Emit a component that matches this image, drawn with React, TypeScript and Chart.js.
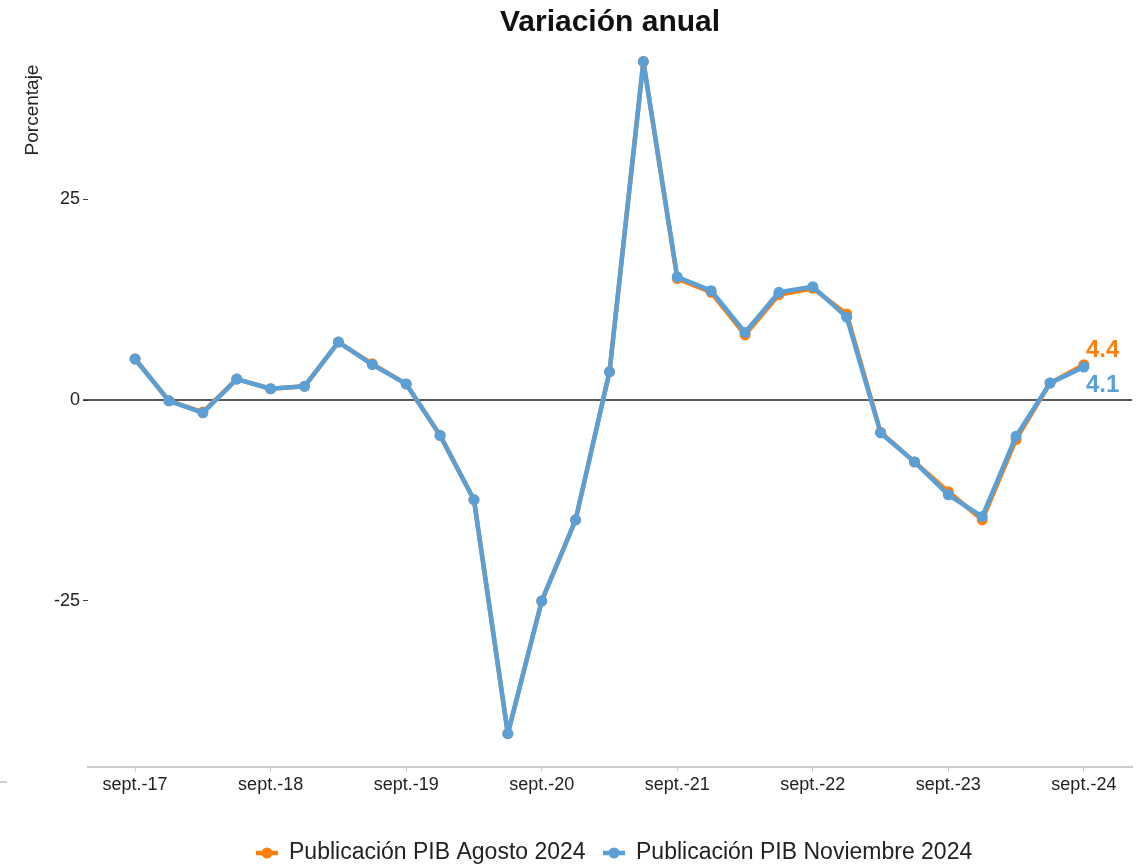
import { useEffect, useRef } from 'react';
import { Chart, registerables } from 'chart.js';

Chart.register(...registerables);

const quarters = [
  'sept.-17', 'dic.-17', 'mar.-18', 'jun.-18',
  'sept.-18', 'dic.-18', 'mar.-19', 'jun.-19',
  'sept.-19', 'dic.-19', 'mar.-20', 'jun.-20',
  'sept.-20', 'dic.-20', 'mar.-21', 'jun.-21',
  'sept.-21', 'dic.-21', 'mar.-22', 'jun.-22',
  'sept.-22', 'dic.-22', 'mar.-23', 'jun.-23',
  'sept.-23', 'dic.-23', 'mar.-24', 'jun.-24',
  'sept.-24',
];

const agosto2024 = [
  5.1, -0.1, -1.5, 2.6, 1.4, 1.7, 7.2, 4.5, 2.0, -4.4, -12.4, -41.5, -25.0, -14.9, 3.5,
  42.1, 15.1, 13.4, 8.1, 13.1, 13.9, 10.7, -4.0, -7.7, -11.4, -14.9, -4.9, 2.1, 4.4,
];

const noviembre2024 = [
  5.1, -0.1, -1.6, 2.6, 1.4, 1.7, 7.2, 4.4, 2.0, -4.4, -12.4, -41.5, -25.0, -14.9, 3.5,
  42.1, 15.3, 13.6, 8.4, 13.4, 14.1, 10.3, -4.1, -7.7, -11.8, -14.5, -4.5, 2.1, 4.1,
];

const xTickIndices = [0, 4, 8, 12, 16, 20, 24, 28];
const yTickValues = [-25, 0, 25];

const seriesNames = ['Publicación PIB Agosto 2024', 'Publicación PIB Noviembre 2024'];
const ORANGE = '#FF7F0E';
const BLUE = '#5A9FD6';
const FONT = '"Liberation Sans", Arial, sans-serif';

const customPlugin = {
  id: 'customDecor',
  beforeDatasetsDraw(chart: any) {
    const { ctx, chartArea, scales } = chart;
    const y0 = scales.y.getPixelForValue(0);
    ctx.save();
    ctx.strokeStyle = '#222';
    ctx.lineWidth = 1.5;
    ctx.beginPath();
    ctx.moveTo(chartArea.left - 5, y0);
    ctx.lineTo(chartArea.right, y0);
    ctx.stroke();
    ctx.restore();
  },
  afterDraw(chart: any) {
    const { ctx, chartArea, scales } = chart;
    ctx.save();
    // title
    ctx.fillStyle = '#111';
    ctx.font = `bold 30px ${FONT}`;
    ctx.textAlign = 'center';
    ctx.textBaseline = 'middle';
    ctx.fillText('Variación anual', (chartArea.left + chartArea.right) / 2, 23);

    // y axis label
    ctx.save();
    ctx.translate(33, 110);
    ctx.rotate(-Math.PI / 2);
    ctx.font = `19px ${FONT}`;
    ctx.fillStyle = '#222';
    ctx.fillText('Porcentaje', 0, 0);
    ctx.restore();

    // end value labels
    const last = quarters.length - 1;
    const xl = scales.x.getPixelForValue(last) + 2;
    ctx.font = `bold 24px ${FONT}`;
    ctx.textAlign = 'left';
    ctx.fillStyle = ORANGE;
    ctx.fillText(agosto2024[last].toFixed(1), xl, scales.y.getPixelForValue(agosto2024[last]) - 14);
    ctx.fillStyle = BLUE;
    ctx.fillText(noviembre2024[last].toFixed(1), xl, scales.y.getPixelForValue(noviembre2024[last]) + 18);

    // legend
    const ly = 853;
    const items = [
      { x: 256, color: ORANGE, text: seriesNames[0] },
      { x: 603, color: BLUE, text: seriesNames[1] },
    ];
    ctx.font = `23px ${FONT}`;
    ctx.textBaseline = 'middle';
    items.forEach((it) => {
      ctx.strokeStyle = it.color;
      ctx.lineWidth = 4.5;
      ctx.beginPath();
      ctx.moveTo(it.x, ly);
      ctx.lineTo(it.x + 22, ly);
      ctx.stroke();
      ctx.fillStyle = it.color;
      ctx.beginPath();
      ctx.arc(it.x + 11, ly, 5.5, 0, Math.PI * 2);
      ctx.fill();
      ctx.fillStyle = '#222';
      ctx.fillText(it.text, it.x + 33, ly);
    });

    // small stray dash at left
    ctx.strokeStyle = '#bbb';
    ctx.lineWidth = 1.5;
    ctx.beginPath();
    ctx.moveTo(0, 782);
    ctx.lineTo(7, 782);
    ctx.stroke();
    ctx.restore();
  },
};

export default function App() {
  const ref = useRef<HTMLCanvasElement | null>(null);

  useEffect(() => {
    if (!ref.current) return;
    Chart.defaults.font.family = FONT;
    const makeData = (arr: number[]) => arr.map((v, i) => ({ x: i, y: v }));
    const common = {
      borderWidth: 4.5,
      pointRadius: 5.5,
      pointBorderWidth: 0,
      tension: 0,
      borderJoinStyle: 'round' as const,
      borderCapStyle: 'round' as const,
    };
    const chart = new Chart(ref.current, {
      type: 'line',
      data: {
        datasets: [
          {
            label: seriesNames[0],
            data: makeData(agosto2024),
            borderColor: ORANGE,
            backgroundColor: ORANGE,
            order: 2,
            ...common,
          },
          {
            label: seriesNames[1],
            data: makeData(noviembre2024),
            borderColor: BLUE,
            backgroundColor: BLUE,
            order: 1,
            ...common,
          },
        ],
      },
      options: {
        responsive: false,
        animation: false,
        devicePixelRatio: 1,
        layout: { padding: { top: 40, left: 0, right: 9, bottom: 61 } },
        plugins: {
          legend: { display: false },
          title: { display: false },
          tooltip: { enabled: false },
        },
        scales: {
          x: {
            type: 'linear',
            min: -1.39,
            max: 29.42,
            afterBuildTicks: (s: any) => {
              s.ticks = xTickIndices.map((v) => ({ value: v }));
            },
            afterFit: (s: any) => {
              s.height = 40;
            },
            ticks: {
              autoSkip: false,
              maxRotation: 0,
              callback: (v: any) => quarters[v as number],
              font: { size: 18 },
              color: '#222',
              padding: 2,
            },
            grid: { drawOnChartArea: false, tickLength: 5, color: '#ccc' },
            border: { display: true, color: '#ccc', width: 2 },
          },
          y: {
            min: -45.65,
            max: 44.78,
            afterBuildTicks: (s: any) => {
              s.ticks = yTickValues.map((v) => ({ value: v }));
            },
            afterFit: (s: any) => {
              s.width = 88;
            },
            ticks: {
              font: { size: 18 },
              color: '#222',
              padding: 3,
              callback: (v: any) => String(v),
            },
            grid: { drawOnChartArea: false, tickLength: 5, color: '#444' },
            border: { display: false },
          },
        },
      },
      plugins: [customPlugin],
    });
    return () => chart.destroy();
  }, []);

  return (
    <div style={{ position: 'fixed', left: 0, top: 0, width: 1141, height: 868, background: '#fff' }}>
      <canvas ref={ref} width={1141} height={868} style={{ display: 'block', width: 1141, height: 868 }} />
    </div>
  );
}
